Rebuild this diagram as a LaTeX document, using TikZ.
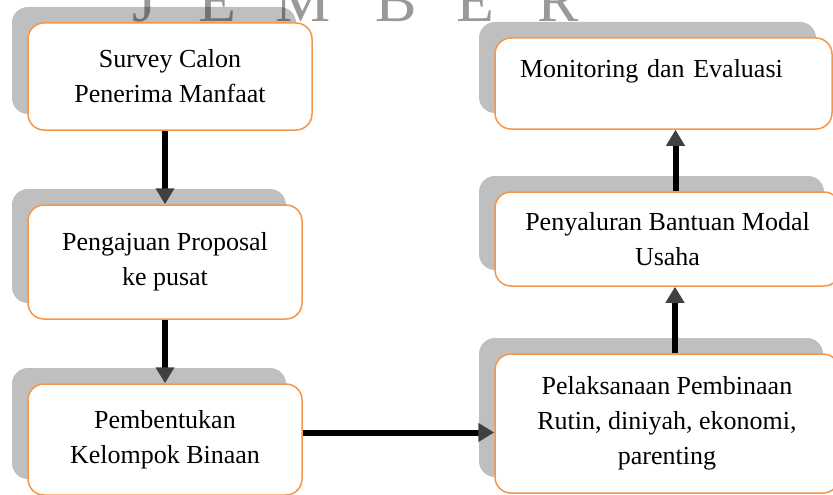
\documentclass[tikz,border=0pt]{standalone}
\usepackage{fontspec}
\setmainfont{Liberation Serif}
\usepackage{tikz}
\usetikzlibrary{arrows.meta, calc}
\usetikzlibrary{shadows}
\usetikzlibrary{positioning}
\definecolor{boxorange}{HTML}{F79646}
\definecolor{shadowgray}{HTML}{BFBFBF}
\definecolor{tipgray}{HTML}{404040}

\begin{document}
\begin{tikzpicture}[x=1pt,y=-1pt,font=\fontsize{26}{35}\selectfont,
  flowbox/.style={draw=boxorange, line width=1.5pt, fill=white,
    rounded corners=16pt, align=center, inner sep=0pt,
    drop shadow={shadow xshift=-16pt, shadow yshift=16pt,
      fill=shadowgray, opacity=1}},
  flowarrow/.style={line width=6pt,
    -{Triangle[width=18pt,length=16pt,color=tipgray]}},
  watermark/.style={font=\fontsize{62}{62}\selectfont, text=black,
    text opacity=0.4, inner sep=0pt, anchor=base}]

\useasboundingbox (0,0) rectangle (833,495);

% ==================== Kolom kiri ====================
\node[flowbox, minimum width=284pt, minimum height=107pt] (survey)
  at (170,76.5) {Survey Calon\\Penerima Manfaat};
\node[flowbox, minimum width=274pt, minimum height=114pt] (pengajuan)
  at (165,262) {Pengajuan Proposal\\ke pusat};
\node[flowbox, minimum width=274pt, minimum height=111pt] (pembentukan)
  at (165,439.5) {Pembentukan\\Kelompok Binaan};

% ==================== Kolom kanan ====================
\node[flowbox, minimum width=344pt, minimum height=139pt] (pelaksanaan)
  at (667,423.5) {Pelaksanaan Pembinaan\\Rutin, diniyah, ekonomi,\\parenting};
\node[flowbox, minimum width=345pt, minimum height=94pt] (penyaluran)
  at (667.5,239) {Penyaluran Bantuan Modal\\Usaha};
\node[flowbox, minimum height=91pt, inner xsep=25pt, text width=287pt,
  align=left, text depth=31pt] (monitoring)
  at (663.5,83.5) {Monitoring dan Evaluasi};

% Panah
\draw[flowarrow] (pengajuan.north |- survey.south) -- (pengajuan.north);
\draw[flowarrow] (pengajuan.south) -- (pembentukan.north);
\draw[flowarrow] ([yshift=7pt]pembentukan.east)
  -- ([yshift=7pt]pembentukan.east -| pelaksanaan.west);
\draw[flowarrow] ([xshift=8pt]pelaksanaan.north)
  -- ([xshift=8pt]pelaksanaan.north |- penyaluran.south);
\draw[flowarrow] ([xshift=8pt]penyaluran.north)
  -- ([xshift=8pt]penyaluran.north |- monitoring.south);

% Tulisan latar
\foreach \ch/\px [count=\i] in {J/145,E/217,M/303,B/396,E/475,R/558}
  \node[watermark] (wm\i) at (\px,22) {\ch};

\end{tikzpicture}
\end{document}
